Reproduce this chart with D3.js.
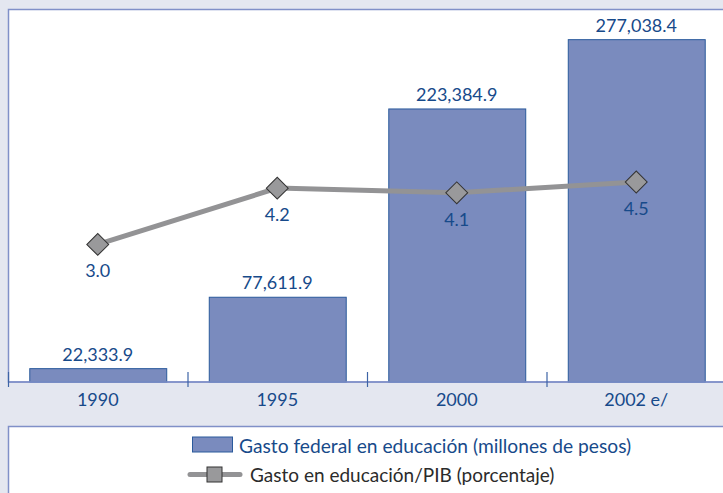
<!DOCTYPE html>
<html>
<head>
<meta charset="utf-8">
<script src="https://cdn.jsdelivr.net/npm/d3@7"></script>
<style>
  body { margin: 0; background: #e4e7f0; }
  svg { display: block; font-family: Lato, "Open Sans", sans-serif; }
</style>
</head>
<body>
<svg id="chart" width="723" height="493"></svg>
<script>
const years = [ '1990', '1995', '2000', '2002 e/' ];
const gasto = [ 22333.9, 77611.9, 223384.9, 277038.4 ]; // millones de pesos
const gastoLabels = [ '22,333.9', '77,611.9', '223,384.9', '277,038.4' ];
const pibLabels = [ '3.0', '4.2', '4.1', '4.5' ];
// where the markers sit in the picture (the 2002 marker is drawn lower than its label says)
const pibValues = [ 3.0, 4.2, 4.1, 4.33 ];

const blue = '#174a8a';
const frame = '#8090c8';

const svg = d3.select('#chart');
const W = 723;
const axisY = 382;

// white plot panel
svg.append('rect')
  .attr('x', 8.5).attr('y', 9.5)
  .attr('width', W + 10).attr('height', axisY - 9.5)
  .attr('fill', '#fff').attr('stroke', frame).attr('stroke-width', 1.5);

const x = d3.scaleBand().domain(years).range([ 8, 726 ])
  .paddingInner(0.237).paddingOuter(0.1185);
const step = x.step();
const y = d3.scaleLinear().domain([ 12000, 300000 ]).range([ axisY, 10 ]);
const yPib = d3.scaleLinear().domain([ 0, 8 ]).range([ axisY + 3, 10 ]);

// bars
svg.selectAll('rect.bar').data(gasto).enter().append('rect')
  .classed('bar', true)
  .attr('x', (d, i) => x(years[i]) + 0.5)
  .attr('y', d => y(d))
  .attr('width', x.bandwidth())
  .attr('height', d => axisY - y(d))
  .attr('fill', '#7a8bbe')
  .attr('stroke', '#2a5a9c').attr('stroke-width', 1);

svg.selectAll('text.barlabel').data(gasto).enter().append('text')
  .classed('barlabel', true)
  .attr('x', (d, i) => x(years[i]) + x.bandwidth() / 2)
  .attr('y', d => y(d) - 8)
  .attr('text-anchor', 'middle')
  .attr('font-size', 18).attr('fill', blue)
  .text((d, i) => gastoLabels[i]);

// axis line and separators
svg.append('line')
  .attr('x1', 8).attr('x2', W).attr('y1', axisY).attr('y2', axisY)
  .attr('stroke', frame).attr('stroke-width', 1.5);

svg.selectAll('line.sep').data(years).enter().append('line')
  .classed('sep', true)
  .attr('x1', d => x(d) - step * x.paddingInner() / 2 + 0.5)
  .attr('x2', d => x(d) - step * x.paddingInner() / 2 + 0.5)
  .attr('y1', axisY - 10).attr('y2', axisY + 5)
  .attr('stroke', '#3d64a6').attr('stroke-width', 1.2);

const xAxis = d3.axisBottom(x).tickSize(0).tickPadding(11);
const gx = svg.append('g').attr('transform', `translate(0 ${axisY})`).call(xAxis);
gx.select('.domain').remove();
gx.selectAll('text').attr('font-size', 18).attr('fill', blue)
  .attr('font-family', 'Lato, "Open Sans", sans-serif');

// line series
const line = d3.line()
  .x((d, i) => x(years[i]) + x.bandwidth() / 2)
  .y(d => yPib(d));

svg.append('path').datum(pibValues)
  .attr('d', line)
  .attr('fill', 'none').attr('stroke', '#939395')
  .attr('stroke-width', 5);

svg.selectAll('path.marker').data(pibValues).enter().append('path')
  .classed('marker', true)
  .attr('d', d3.symbol(d3.symbolSquare, 240))
  .attr('transform', (d, i) => `translate(${x(years[i]) + x.bandwidth() / 2} ${yPib(d)}) rotate(45)`)
  .attr('fill', '#99999b').attr('stroke', '#333').attr('stroke-width', 1);

svg.selectAll('text.piblabel').data(pibValues).enter().append('text')
  .classed('piblabel', true)
  .attr('x', (d, i) => x(years[i]) + x.bandwidth() / 2)
  .attr('y', d => yPib(d) + 33)
  .attr('text-anchor', 'middle')
  .attr('font-size', 18).attr('fill', blue)
  .text((d, i) => pibLabels[i]);

// legend
svg.append('rect')
  .attr('x', 8.5).attr('y', 426.5)
  .attr('width', W + 10).attr('height', 100)
  .attr('fill', '#fff').attr('stroke', frame).attr('stroke-width', 1.5);

svg.append('rect')
  .attr('x', 192.5).attr('y', 437)
  .attr('width', 40).attr('height', 15)
  .attr('fill', '#7a8bbe').attr('stroke', '#2a5a9c').attr('stroke-width', 1);
svg.append('text')
  .attr('x', 239).attr('y', 452.5)
  .attr('font-size', 19.2).attr('fill', blue)
  .text('Gasto federal en educación (millones de pesos)');

svg.append('line')
  .attr('x1', 190).attr('x2', 240).attr('y1', 474.5).attr('y2', 474.5)
  .attr('stroke', '#939395').attr('stroke-width', 5).attr('stroke-linecap', 'round');
svg.append('rect')
  .attr('x', 207).attr('y', 467).attr('width', 15).attr('height', 15)
  .attr('fill', '#99999b').attr('stroke', '#333').attr('stroke-width', 1);
svg.append('text')
  .attr('x', 250).attr('y', 481.5)
  .attr('font-size', 19).attr('fill', '#2b2b2b')
  .text('Gasto en educación/PIB (porcentaje)');
</script>
</body>
</html>
